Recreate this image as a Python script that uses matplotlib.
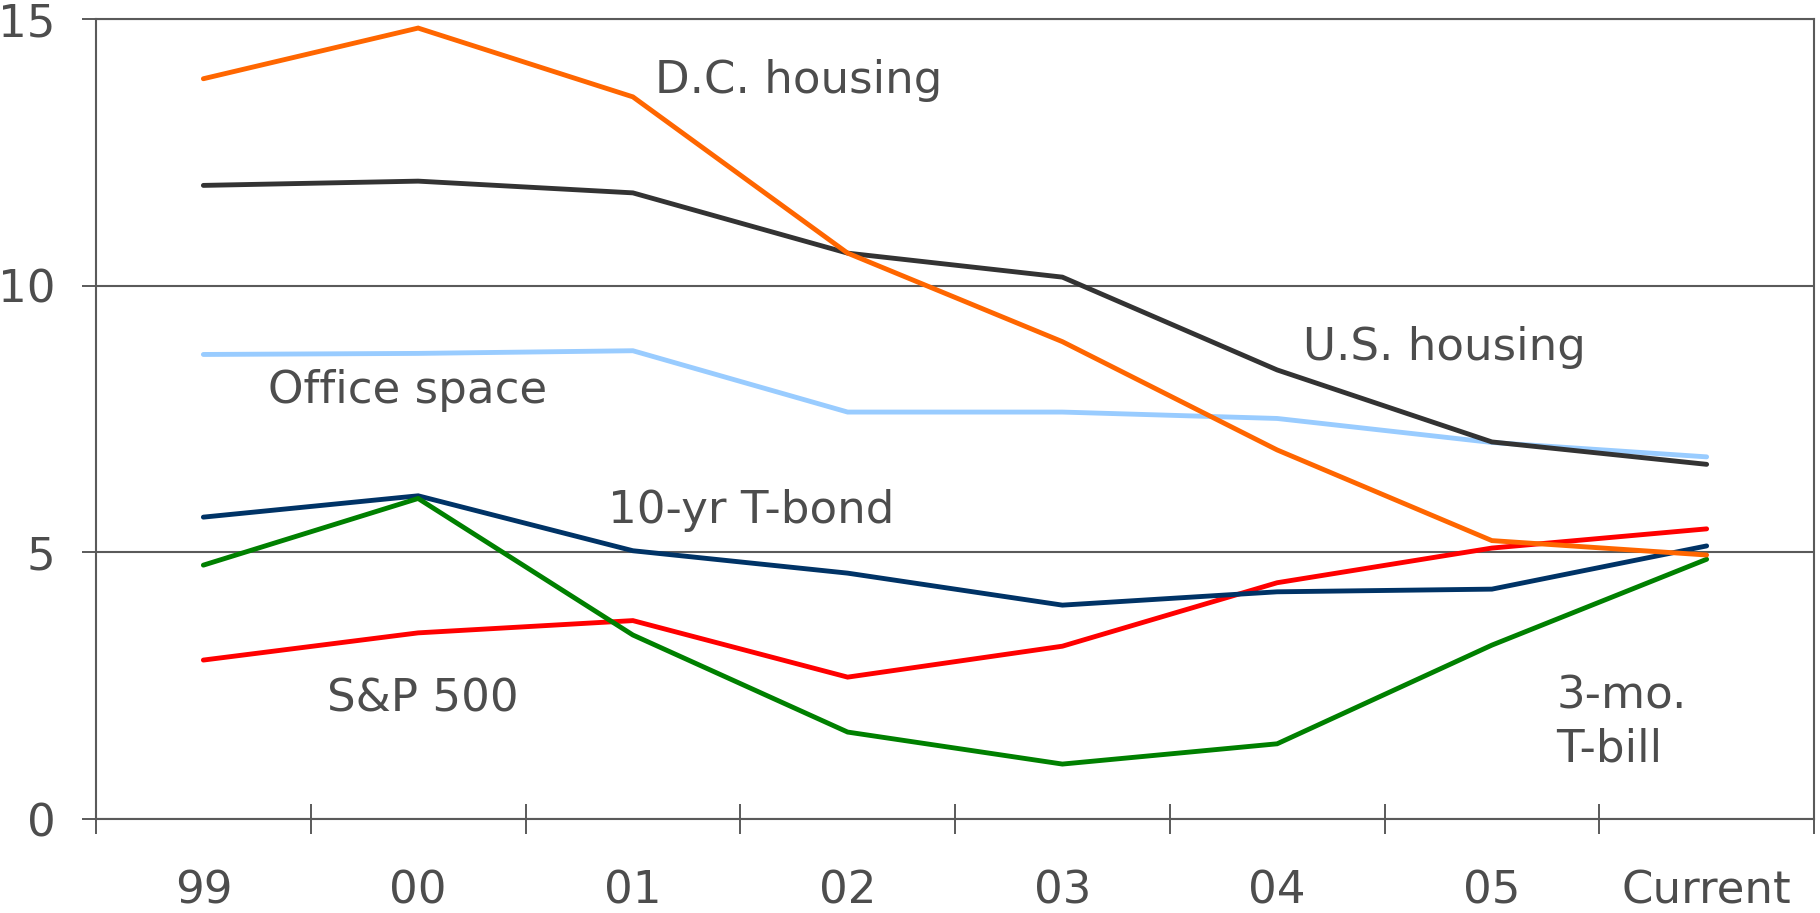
import matplotlib
matplotlib.use("Agg")
import matplotlib.pyplot as plt
from matplotlib.ticker import FixedLocator

# Categories (years) and yields, percent
categories = ["99", "00", "01", "02", "03", "04", "05", "Current"]
dc_housing = [13.88, 14.83, 13.54, 10.61, 8.95, 6.92, 5.22, 4.95]
us_housing = [11.88, 11.96, 11.74, 10.61, 10.16, 8.42, 7.07, 6.65]
office_space = [8.71, 8.73, 8.78, 7.63, 7.63, 7.51, 7.06, 6.79]
tbond_10yr = [5.66, 6.06, 5.03, 4.61, 4.01, 4.26, 4.31, 5.12]
sp500 = [2.98, 3.49, 3.72, 2.66, 3.24, 4.43, 5.08, 5.44]
tbill_3mo = [4.76, 6.01, 3.45, 1.63, 1.03, 1.41, 3.26, 4.87]
y_ticks = [0, 5, 10, 15]

TEXT = "#4d4d4d"
AXIS = "#5a5a5a"
FS = 32.5

plt.rcParams["font.family"] = ["DejaVu Sans"]

fig = plt.figure(figsize=(18.2, 9.13), dpi=100)
ax = fig.add_axes([96 / 1820, 1 - 819 / 913, (1814 - 96) / 1820, (819 - 19) / 913])

x = list(range(len(categories)))
series = [
    (office_space, "#99ccff"),
    (us_housing, "#333333"),
    (sp500, "#ff0000"),
    (tbond_10yr, "#003366"),
    (tbill_3mo, "#008000"),
    (dc_housing, "#ff6600"),
]
for values, color in series:
    ax.plot(x, values, color=color, lw=3.5, solid_capstyle="round",
            solid_joinstyle="miter", zorder=3)

ax.set_xlim(-0.5, len(categories) - 0.5)
ax.set_ylim(0, 15)

# Horizontal gridlines
ax.set_yticks(y_ticks)
ax.set_yticklabels([str(v) for v in y_ticks])
ax.yaxis.grid(True, color=AXIS, lw=1.5)
ax.set_axisbelow(True)

# Tick marks at category boundaries, labels at category centres
ax.xaxis.set_major_locator(FixedLocator([i - 0.5 for i in range(len(categories) + 1)]))
ax.xaxis.set_major_formatter(plt.NullFormatter())
ax.xaxis.set_minor_locator(FixedLocator(x))
ax.set_xticklabels(categories, minor=True)
ax.tick_params(axis="x", which="major", direction="inout", length=21, width=1.4, color=AXIS)
ax.tick_params(axis="x", which="minor", length=0, pad=36.5, labelsize=FS, labelcolor=TEXT)
ax.tick_params(axis="y", direction="out", length=10, width=1.4, color=AXIS,
               pad=19, labelsize=FS, labelcolor=TEXT)

for side in ["left", "right", "bottom", "top"]:
    ax.spines[side].set_color(AXIS)
    ax.spines[side].set_linewidth(1.5)

# Series labels
labels = [
    ("D.C. housing", 2.77, 13.61, "center"),
    ("U.S. housing", 5.78, 8.61, "center"),
    ("Office space", 0.953, 7.80, "center"),
    ("10-yr T-bond", 2.55, 5.55, "center"),
    ("S&P 500", 1.023, 2.01, "center"),
    ("3-mo.", 6.30, 2.08, "left"),
    ("T-bill", 6.30, 1.07, "left"),
]
for text, lx, ly, ha in labels:
    ax.text(lx, ly, text, ha=ha, va="baseline", fontsize=FS, color=TEXT, zorder=4)

fig.savefig("out.png", dpi=100)
